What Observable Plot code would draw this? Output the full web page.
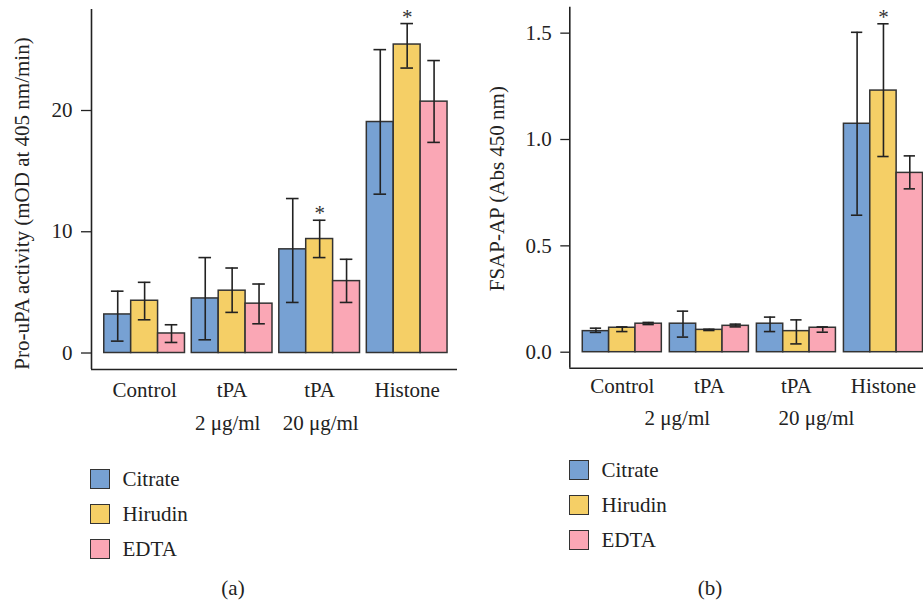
<!DOCTYPE html>
<html><head><meta charset="utf-8">
<script src="https://cdn.jsdelivr.net/npm/d3@7"></script>
<script src="https://cdn.jsdelivr.net/npm/@observablehq/plot@0.6"></script>
<style>
body{margin:0;background:#fff;font-family:"Liberation Serif",serif;color:#222;}
#wrap{position:relative;width:923px;height:603px;overflow:hidden;background:#fff;}
.panel{position:absolute;top:0;}
.legend{position:absolute;font-size:21px;}
.row{display:flex;align-items:center;height:35px;line-height:21px;}
.sw{width:20px;height:20px;box-sizing:border-box;border:1.5px solid #333;margin-right:12.5px;}
.cap{position:absolute;font-size:21px;line-height:21px;transform:translateX(-50%);}
</style></head><body>
<div id="wrap">
  <div id="pa" class="panel" style="left:0"></div>
  <div id="pb" class="panel" style="left:460px"></div>
  <div id="la" class="legend" style="left:90px;top:461.5px"></div>
  <div id="lb" class="legend" style="left:569px;top:452.5px"></div>
  <div class="cap" style="left:233px;top:578px">(a)</div>
  <div class="cap" style="left:710px;top:578px">(b)</div>
</div>
<script>
// ---- data ----
const groups = ["Control", "tPA", "tPA", "Histone"];
const doses = ["", "2 μg/ml", "20 μg/ml", ""];
const series = ["Citrate", "Hirudin", "EDTA"];
const colors = ["#77A1D3", "#F5CF66", "#FAA7B5"];

// Panel (a): Pro-uPA activity (mOD at 405 nm/min)
const uPA_citrate = [3.18, 4.50, 8.55, 19.05];
const uPA_citrate_lo = [0.98, 1.09, 4.17, 13.10];
const uPA_citrate_hi = [5.10, 7.87, 12.74, 25.02];
const uPA_hirudin = [4.31, 5.14, 9.40, 25.44];
const uPA_hirudin_lo = [2.74, 3.35, 7.87, 23.50];
const uPA_hirudin_hi = [5.83, 7.01, 10.95, 27.17];
const uPA_edta = [1.61, 4.07, 5.93, 20.73];
const uPA_edta_lo = [0.87, 2.41, 4.17, 17.37];
const uPA_edta_hi = [2.33, 5.69, 7.73, 24.12];
const uPA_sig_group = [2, 3];
const uPA_sig_series = ["Hirudin", "Hirudin"];
const uPA_ticks = [0, 10, 20];

// Panel (b): FSAP-AP (Abs 450 nm)
const fsap_citrate = [0.099, 0.134, 0.134, 1.074];
const fsap_citrate_lo = [0.093, 0.071, 0.097, 0.644];
const fsap_citrate_hi = [0.113, 0.193, 0.165, 1.504];
const fsap_hirudin = [0.115, 0.105, 0.099, 1.230];
const fsap_hirudin_lo = [0.097, 0.102, 0.039, 0.920];
const fsap_hirudin_hi = [0.119, 0.108, 0.152, 1.544];
const fsap_edta = [0.134, 0.124, 0.115, 0.843];
const fsap_edta_lo = [0.130, 0.119, 0.094, 0.768];
const fsap_edta_hi = [0.140, 0.132, 0.119, 0.923];
const fsap_sig_group = [3];
const fsap_sig_series = ["Hirudin"];
const fsap_ticks = [0, 0.5, 1.0, 1.5];

function buildRows(means, los, his) {
  const rows = [];
  groups.forEach((gname, g) => {
    series.forEach((s, k) => {
      rows.push({g, k, s, mean: means[k][g], lo: los[k][g], hi: his[k][g]});
    });
  });
  return rows;
}
const rowsA = buildRows([uPA_citrate, uPA_hirudin, uPA_edta],
  [uPA_citrate_lo, uPA_hirudin_lo, uPA_edta_lo],
  [uPA_citrate_hi, uPA_hirudin_hi, uPA_edta_hi]);
const rowsB = buildRows([fsap_citrate, fsap_hirudin, fsap_edta],
  [fsap_citrate_lo, fsap_hirudin_lo, fsap_edta_lo],
  [fsap_citrate_hi, fsap_hirudin_hi, fsap_edta_hi]);
const sigA = rowsA.filter(r => uPA_sig_group.some((g, i) => g === r.g && uPA_sig_series[i] === r.s));
const sigB = rowsB.filter(r => fsap_sig_group.some((g, i) => g === r.g && fsap_sig_series[i] === r.s));

function panel(o) {
  const bw = o.bw, cap = o.cap;
  const xc = d => d.g + (d.k - 1) * bw;
  const ink = "#222";
  return Plot.plot({
    width: o.width, height: o.height,
    marginLeft: o.ml, marginTop: o.mt, marginBottom: o.mb, marginRight: o.mr,
    style: {fontFamily: "Liberation Serif, serif", fontSize: "21px", color: ink, background: "#fff"},
    x: {type: "linear", domain: o.xDomain},
    y: {domain: o.yDomain},
    color: {domain: series, range: colors},
    marks: [
      Plot.rectY(o.rows, {x1: d => xc(d) - bw / 2, x2: d => xc(d) + bw / 2, y1: 0, y2: "mean",
        fill: "s", stroke: "#333", strokeWidth: 1.5}),
      Plot.ruleX(o.rows, {x: xc, y1: "lo", y2: "hi", stroke: ink, strokeWidth: 1.6}),
      Plot.ruleY(o.rows, {y: "lo", x1: d => xc(d) - cap, x2: d => xc(d) + cap, stroke: ink, strokeWidth: 1.6}),
      Plot.ruleY(o.rows, {y: "hi", x1: d => xc(d) - cap, x2: d => xc(d) + cap, stroke: ink, strokeWidth: 1.6}),
      Plot.text(o.sig, {x: xc, y: "hi", text: () => "*", dy: -6.5, fontSize: 21, fill: "#333"}),
      Plot.ruleX([o.xDomain[0]], {stroke: ink, strokeWidth: 1.6}),
      Plot.ruleY([o.yDomain[0]], {stroke: ink, strokeWidth: 1.6}),
      Plot.axisY({ticks: o.yTicks, tickFormat: o.tickFormat, tickSize: o.tickSize, tickPadding: 9,
        label: null, stroke: ink, strokeWidth: 1.3, fill: ink}),
      Plot.axisX({ticks: [0, 1, 2, 3], tickFormat: i => groups[i], tickSize: 0, tickPadding: o.xPad,
        label: null, fill: ink}),
      Plot.axisX({ticks: [1], tickFormat: i => doses[i], tickSize: 0, tickPadding: o.dosePad, dx: o.doseDx[0],
        label: null, fill: ink}),
      Plot.axisX({ticks: [2], tickFormat: i => doses[i], tickSize: 0, tickPadding: o.dosePad, dx: o.doseDx[1],
        label: null, fill: ink}),
      Plot.text([o.label], {frameAnchor: "left", text: d => d, rotate: -90, textAnchor: "middle",
        dx: o.labelDx, dy: o.labelDy, fontSize: 21, fill: ink})
    ]
  });
}

document.getElementById("pa").append(panel({
  rows: rowsA, sig: sigA, width: 460, height: 440, ml: 91, mt: 9, mb: 71, mr: 3,
  xDomain: [-0.607, 3.575], yDomain: [-1.36, 28.33], yTicks: uPA_ticks, tickFormat: d3.format("d"),
  bw: 0.3074, cap: 0.072, tickSize: 10, xPad: 13, dosePad: 46, doseDx: [-4.5, 1],
  label: "Pro-uPA activity (mOD at 405 nm/min)", labelDx: -69, labelDy: 14
}));
document.getElementById("pb").append(panel({
  rows: rowsB, sig: sigB, width: 463, height: 440, ml: 109.3, mt: 6.7, mb: 72.3, mr: 0,
  xDomain: [-0.603, 3.46], yDomain: [-0.0752, 1.622], yTicks: fsap_ticks, tickFormat: d3.format(".1f"),
  bw: 0.3027, cap: 0.065, tickSize: 9, xPad: 10, dosePad: 41.5, doseDx: [-32, 20],
  label: "FSAP-AP (Abs 450 nm)", labelDx: -73, labelDy: 1
}));

function legend(id) {
  const el = document.getElementById(id);
  series.forEach((s, i) => {
    const row = document.createElement("div");
    row.className = "row";
    const sw = document.createElement("div");
    sw.className = "sw";
    sw.style.background = colors[i];
    const t = document.createElement("span");
    t.textContent = s;
    row.append(sw, t);
    el.append(row);
  });
}
legend("la");
legend("lb");
</script>
</body></html>
